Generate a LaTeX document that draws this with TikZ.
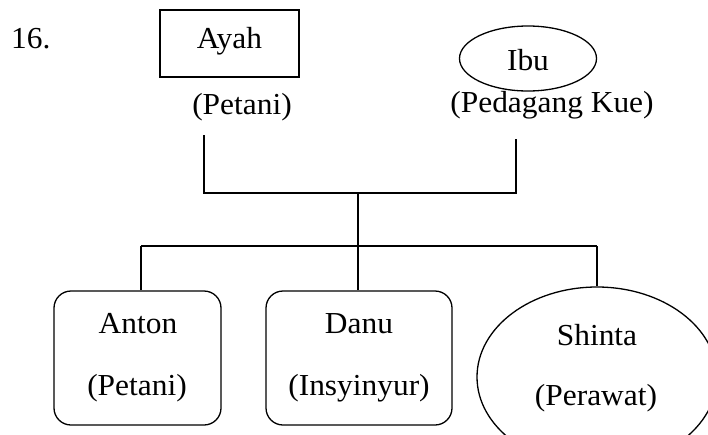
\documentclass[tikz,border=0pt]{standalone}
\usepackage{fontspec}
\setmainfont{Liberation Serif}[FakeStretch=1.03]
\usetikzlibrary{shapes.geometric}
\begin{document}
\begin{tikzpicture}[x=1pt,y=-1pt,
  every node/.style={font=\fontsize{30.5}{35}\selectfont},
  txt/.style={inner sep=0pt, anchor=base},
  line/.style={line width=1.4pt},
  parentbox/.style={draw, line width=1.3pt, rectangle, minimum width=139pt, minimum height=67pt, inner sep=0pt},
  parentoval/.style={draw, line width=1.3pt, ellipse, minimum width=137pt, minimum height=65pt, inner sep=0pt},
  kidbox/.style={draw, line width=1.3pt, rectangle, rounded corners=17pt, minimum height=134pt, inner sep=0pt},
  kidoval/.style={draw, line width=1.3pt, ellipse, minimum width=240pt, minimum height=180pt, inner sep=0pt}
]
\useasboundingbox (0,0) rectangle (708,434);
\clip (0,0) rectangle (708,434);
\fill[white] (0,0) rectangle (708,434);

\node[txt, anchor=base west] (num) at (11,48) {16.};

% parents
\node[parentbox] (ayah) at (229.5,43.5) {};
\node[txt] (ayahname) at (229.5,48) {Ayah};
\node[txt] (ayahjob) at (242,114) {(Petani)};
\node[parentoval] (ibu) at (528,58.5) {};
\node[txt] (ibuname) at (528,70) {Ibu};
\node[txt] (ibujob) at (552,112) {(Pedagang Kue)};

% children
\node[kidbox, minimum width=167pt] (anton) at (137.5,358) {};
\node[txt] (antonname) at (138,333) {Anton};
\node[txt] (antonjob) at (137,395) {(Petani)};
\node[kidbox, minimum width=186pt] (danu) at (359,358) {};
\node[txt] (danuname) at (359,333) {Danu};
\node[txt] (danujob) at (359,395) {(Insyinyur)};
\node[kidoval] (shinta) at (597,377) {};
\node[txt] (shintaname) at (597,345) {Shinta};
\node[txt] (shintajob) at (596,405) {(Perawat)};

% connectors
\coordinate (pl) at (204,135);
\coordinate (plb) at (204,193);
\coordinate (pr) at (516,139);
\coordinate (prb) at (516,193);
\coordinate (mid) at (358,193);
\coordinate (cl) at (141,246);
\coordinate (cr) at (597,246);

\draw[line] (pl) -- (plb) -- (prb) -- (pr);
\draw[line] (mid) -- (mid |- danu.north);
\draw[line] (cl) -- (cr);
\draw[line] (cl) -- (cl |- anton.north);
\draw[line] (cr) -- (shinta.north);
\end{tikzpicture}
\end{document}
